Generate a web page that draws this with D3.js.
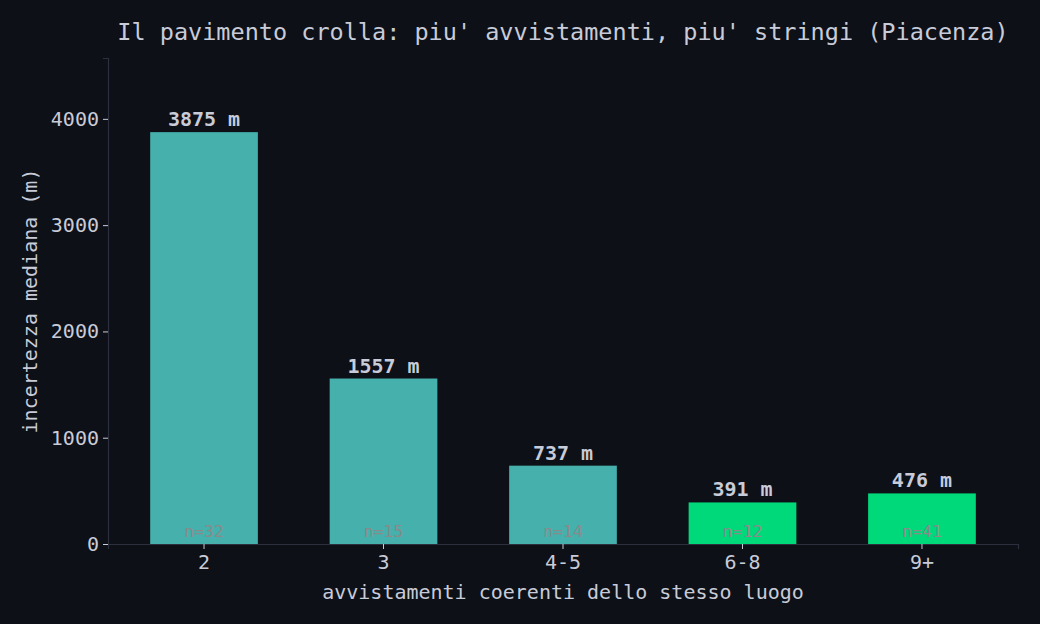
<!DOCTYPE html>
<html>
<head>
<meta charset="utf-8">
<script src="https://cdn.jsdelivr.net/npm/d3@7"></script>
<style>
  html, body { margin: 0; padding: 0; background: #0d1017; }
  svg { display: block; font-family: "DejaVu Sans Mono", monospace; }
</style>
</head>
<body>
<div id="chart"></div>
<script>
// data
const categories = ['2', '3', '4-5', '6-8', '9+'];
const medians = [3875, 1557, 737, 391, 476];
const counts = [32, 15, 14, 12, 41];
const highlight = [false, false, false, true, true];
const yTicks = [0, 1000, 2000, 3000, 4000];

const width = 1040, height = 624;
const margin = { top: 58, right: 22, bottom: 80, left: 108 };
const textColor = '#c8cbd8';
const spineColor = '#2c2f3d';

const svg = d3.select('#chart')
  .append('svg')
  .attr('width', width)
  .attr('height', height);

svg.append('rect')
  .attr('width', width)
  .attr('height', height)
  .attr('fill', '#0d1017');

const x = d3.scaleBand()
  .domain(categories)
  .range([margin.left, width - margin.right])
  .paddingInner(0.4)
  .paddingOuter(0.235);

const y = d3.scaleLinear()
  .domain([0, d3.max(medians) * 1.18])
  .range([height - margin.bottom, margin.top]);

const rows = categories.map((c, i) => ({
  cat: c, v: medians[i], n: counts[i], hi: highlight[i]
}));

// bars
svg.selectAll('rect.bar')
  .data(rows)
  .enter()
  .append('rect')
    .attr('class', 'bar')
    .attr('x', d => x(d.cat))
    .attr('width', x.bandwidth())
    .attr('y', d => y(d.v))
    .attr('height', d => y(0) - y(d.v))
    .attr('fill', d => d.hi ? '#00d97a' : '#45b0ac');

// value labels
svg.selectAll('text.val')
  .data(rows)
  .enter()
  .append('text')
    .attr('class', 'val')
    .attr('x', d => x(d.cat) + x.bandwidth() / 2)
    .attr('y', d => y(d.v) - 6)
    .attr('text-anchor', 'middle')
    .attr('font-size', 20)
    .attr('font-weight', 'bold')
    .attr('fill', textColor)
    .text(d => d.v + ' m');

// n labels
svg.selectAll('text.n')
  .data(rows)
  .enter()
  .append('text')
    .attr('class', 'n')
    .attr('x', d => x(d.cat) + x.bandwidth() / 2)
    .attr('y', y(0) - 7)
    .attr('text-anchor', 'middle')
    .attr('font-size', 16.5)
    .attr('fill', '#8a8a8a')
    .text(d => 'n=' + d.n);

// axes
const xAxis = svg.append('g')
  .attr('transform', `translate(0,${y(0)})`)
  .call(d3.axisBottom(x).tickSize(5).tickPadding(6));

const yAxis = svg.append('g')
  .attr('transform', `translate(${margin.left},0)`)
  .call(d3.axisLeft(y).tickValues(yTicks).tickFormat(d3.format('d')).tickSize(5).tickPadding(4));

[xAxis, yAxis].forEach(g => {
  g.select('.domain').attr('stroke', spineColor).attr('stroke-width', 1.2);
  g.selectAll('.tick line').attr('stroke', textColor).attr('stroke-width', 1);
  g.selectAll('.tick text')
    .attr('fill', textColor)
    .attr('font-size', 20)
    .attr('font-family', '"DejaVu Sans Mono", monospace');
});

// axis labels
svg.append('text')
  .attr('x', (margin.left + width - margin.right) / 2)
  .attr('y', 599)
  .attr('text-anchor', 'middle')
  .attr('font-size', 20)
  .attr('fill', textColor)
  .text('avvistamenti coerenti dello stesso luogo');

svg.append('text')
  .attr('transform', `translate(37,${(margin.top + height - margin.bottom) / 2}) rotate(-90)`)
  .attr('text-anchor', 'middle')
  .attr('font-size', 20)
  .attr('fill', textColor)
  .text('incertezza mediana (m)');

// title
svg.append('text')
  .attr('x', (margin.left + width - margin.right) / 2)
  .attr('y', 40)
  .attr('text-anchor', 'middle')
  .attr('font-size', 23.5)
  .attr('fill', textColor)
  .text("Il pavimento crolla: piu' avvistamenti, piu' stringi (Piacenza)");
</script>
</body>
</html>
